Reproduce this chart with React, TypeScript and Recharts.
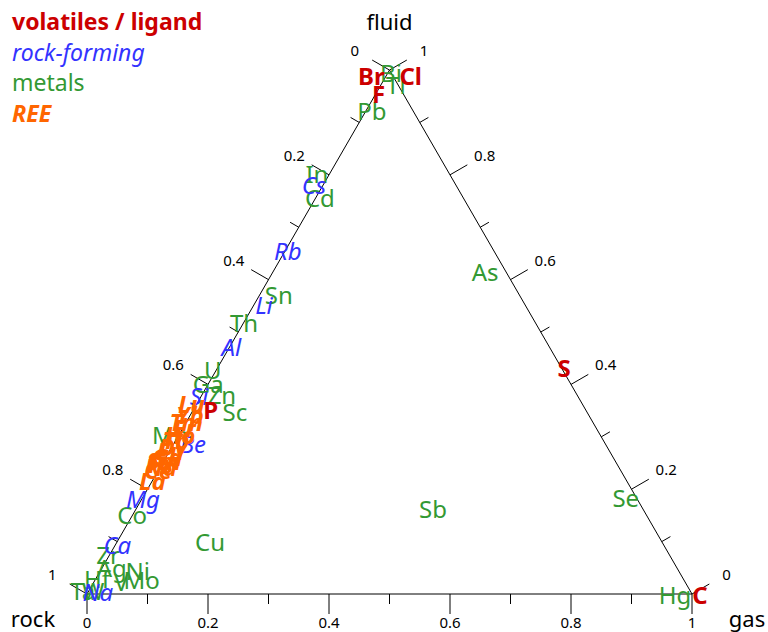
import React from 'react';
import { ScatterChart, Scatter, XAxis, YAxis, ReferenceLine } from 'recharts';

type El = { name: string; rock: number; fluid: number; gas: number };

// ---- data (ternary fractions: rock, fluid, gas) ----
const volatiles: El[] = [
  { name: 'Br', rock: 0.035, fluid: 0.99, gas: -0.025 },
  { name: 'Cl', rock: -0.03, fluid: 0.99, gas: 0.04 },
  { name: 'F', rock: 0.04, fluid: 0.956, gas: 0.004 },
  { name: 'P', rock: 0.619, fluid: 0.353, gas: 0.028 },
  { name: 'S', rock: -0.005, fluid: 0.433, gas: 0.572 },
  { name: 'C', rock: -0.013, fluid: 0.0, gas: 1.013 },
];

const rockForming: El[] = [
  { name: 'Cs', rock: 0.234, fluid: 0.782, gas: -0.016 },
  { name: 'Rb', rock: 0.34, fluid: 0.656, gas: 0.004 },
  { name: 'Li', rock: 0.431, fluid: 0.553, gas: 0.016 },
  { name: 'Al', rock: 0.525, fluid: 0.473, gas: 0.002 },
  { name: 'Si', rock: 0.626, fluid: 0.378, gas: -0.004 },
  { name: 'Be', rock: 0.681, fluid: 0.288, gas: 0.031 },
  { name: 'Mg', rock: 0.816, fluid: 0.183, gas: 0.001 },
  { name: 'Ca', rock: 0.903, fluid: 0.094, gas: 0.003 },
  { name: 'Na', rock: 0.98, fluid: 0.004, gas: 0.016 },
];

const metals: El[] = [
  { name: 'Bi', rock: 0.0, fluid: 0.995, gas: 0.005 },
  { name: 'Tl', rock: 0.003, fluid: 0.973, gas: 0.024 },
  { name: 'Pb', rock: 0.068, fluid: 0.922, gas: 0.01 },
  { name: 'In', rock: 0.219, fluid: 0.802, gas: -0.021 },
  { name: 'Cd', rock: 0.237, fluid: 0.756, gas: 0.007 },
  { name: 'Sn', rock: 0.397, fluid: 0.572, gas: 0.031 },
  { name: 'Th', rock: 0.481, fluid: 0.519, gas: 0.0 },
  { name: 'U', rock: 0.578, fluid: 0.428, gas: -0.006 },
  { name: 'Ga', rock: 0.599, fluid: 0.401, gas: 0.0 },
  { name: 'Zn', rock: 0.587, fluid: 0.38, gas: 0.033 },
  { name: 'Sc', rock: 0.581, fluid: 0.349, gas: 0.07 },
  { name: 'Mn', rock: 0.71, fluid: 0.305, gas: -0.015 },
  { name: 'Co', rock: 0.85, fluid: 0.151, gas: -0.001 },
  { name: 'Zr', rock: 0.927, fluid: 0.076, gas: -0.003 },
  { name: 'Ag', rock: 0.934, fluid: 0.05, gas: 0.016 },
  { name: 'Ni', rock: 0.894, fluid: 0.044, gas: 0.062 },
  { name: 'Hf', rock: 0.969, fluid: 0.029, gas: 0.002 },
  { name: 'V', rock: 0.932, fluid: 0.023, gas: 0.045 },
  { name: 'Mo', rock: 0.896, fluid: 0.027, gas: 0.077 },
  { name: 'Ta', rock: 1.004, fluid: 0.006, gas: -0.01 },
  { name: 'W', rock: 0.987, fluid: 0.006, gas: 0.007 },
  { name: 'Cu', rock: 0.746, fluid: 0.101, gas: 0.153 },
  { name: 'Sb', rock: 0.346, fluid: 0.164, gas: 0.49 },
  { name: 'As', rock: 0.034, fluid: 0.616, gas: 0.35 },
  { name: 'Se', rock: 0.017, fluid: 0.185, gas: 0.798 },
  { name: 'Hg', rock: 0.028, fluid: 0.0, gas: 0.972 },
];

const ree: El[] = [
  { name: 'Lu', rock: 0.646, fluid: 0.363, gas: -0.009 },
  { name: 'Yb', rock: 0.659, fluid: 0.342, gas: -0.001 },
  { name: 'Tm', rock: 0.671, fluid: 0.33, gas: -0.001 },
  { name: 'Er', rock: 0.681, fluid: 0.317, gas: 0.002 },
  { name: 'Ho', rock: 0.694, fluid: 0.305, gas: 0.001 },
  { name: 'Tb', rock: 0.706, fluid: 0.294, gas: 0.0 },
  { name: 'Dy', rock: 0.717, fluid: 0.282, gas: 0.001 },
  { name: 'Eu', rock: 0.726, fluid: 0.273, gas: 0.001 },
  { name: 'Gd', rock: 0.736, fluid: 0.263, gas: 0.001 },
  { name: 'Sm', rock: 0.746, fluid: 0.254, gas: 0.0 },
  { name: 'Pr', rock: 0.754, fluid: 0.25, gas: -0.004 },
  { name: 'Nd', rock: 0.756, fluid: 0.244, gas: 0.0 },
  { name: 'Ce', rock: 0.764, fluid: 0.237, gas: -0.001 },
  { name: 'La', rock: 0.784, fluid: 0.216, gas: 0.0 },
];

const tickSteps = [0, 0.1, 0.2, 0.3, 0.4, 0.5, 0.6, 0.7, 0.8, 0.9, 1];
const tickLabels = ['0', '0.2', '0.4', '0.6', '0.8', '1'];
const axisTitles = ['rock', 'fluid', 'gas'];
const legendItems = ['volatiles / ligand', 'rock-forming', 'metals', 'REE'];

// ---- geometry / styles ----
const W = 768;
const H = 632;
const UNIT = 605; // px per side length
const OX = 87;
const OY = 594;
const S3 = Math.sqrt(3) / 2;
const xDomain = [-OX / UNIT, (W - OX) / UNIT];
const yDomain = [-(H - OY) / UNIT, OY / UNIT];
const FONT = '"Noto Sans", "DejaVu Sans", sans-serif';

const RED = '#CC0000';
const BLUE = '#3333FF';
const GREEN = '#339933';
const ORANGE = '#FF6600';

const toXY = (e: El) => {
  const s = e.rock + e.fluid + e.gas;
  const f = e.fluid / s;
  const g = e.gas / s;
  return { x: g + f / 2, y: f * S3, name: e.name };
};

type Pt = { x: number; y: number };
const edges = [
  // left edge: rock axis (t = rock fraction)
  { pt: (t: number): Pt => ({ x: (1 - t) / 2, y: (1 - t) * S3 }), n: { x: -S3, y: 0.5 }, lab: 40 },
  // right edge: fluid axis (t = fluid fraction)
  { pt: (t: number): Pt => ({ x: 1 - t / 2, y: t * S3 }), n: { x: S3, y: 0.5 }, lab: 40 },
  // bottom edge: gas axis (t = gas fraction)
  { pt: (t: number): Pt => ({ x: t, y: 0 }), n: { x: 0, y: -1 }, lab: 28 },
];

const tickSegs: { a: Pt; b: Pt }[] = [];
const tickLabelPts: { x: number; y: number; name: string }[] = [];
edges.forEach((ed) => {
  tickSteps.forEach((t, i) => {
    const major = i % 2 === 0;
    const len = (major ? 20 : 10) / UNIT;
    const a = ed.pt(t);
    tickSegs.push({ a, b: { x: a.x + ed.n.x * len, y: a.y + ed.n.y * len } });
    if (major) {
      const d = ed.lab / UNIT;
      tickLabelPts.push({ x: a.x + ed.n.x * d, y: a.y + ed.n.y * d, name: tickLabels[i / 2] });
    }
  });
});

const vertices: Pt[] = [
  { x: 0, y: 0 },
  { x: 0.5, y: S3 },
  { x: 1, y: 0 },
];
const titleOffsets = [
  { dx: -54, dy: 33 },
  { dx: 0, dy: -40 },
  { dx: 55, dy: 33 },
];
const titlePts = axisTitles.map((name, i) => ({ ...vertices[i], name, i }));

const textShape =
  (fill: string, weight: string, style: string, size: number) =>
  (props: any) => {
    const { cx, cy, payload } = props;
    return (
      <text
        x={cx}
        y={cy}
        textAnchor="middle"
        dominantBaseline="central"
        fill={fill}
        fontWeight={weight}
        fontStyle={style}
        fontSize={size}
        fontFamily={FONT}
      >
        {payload.name}
      </text>
    );
  };

const titleShape = (props: any) => {
  const { cx, cy, payload } = props;
  const o = titleOffsets[payload.i];
  return (
    <text x={cx + o.dx} y={cy + o.dy} textAnchor="middle" fill="#000" fontSize={22} fontFamily={FONT}>
      {payload.name}
    </text>
  );
};

const legendStyles = [
  { fill: RED, fontWeight: 'bold', fontStyle: 'normal' },
  { fill: BLUE, fontWeight: 'normal', fontStyle: 'italic' },
  { fill: GREEN, fontWeight: 'normal', fontStyle: 'normal' },
  { fill: ORANGE, fontWeight: 'bold', fontStyle: 'italic' },
];

export default function App() {
  return (
    <div style={{ position: 'absolute', left: 0, top: 0, width: W, height: H, background: '#fff' }}>
      <ScatterChart width={W} height={H} margin={{ top: 0, right: 0, bottom: 0, left: 0 }}>
        <XAxis type="number" dataKey="x" domain={xDomain} allowDataOverflow hide />
        <YAxis type="number" dataKey="y" domain={yDomain} allowDataOverflow hide />
        <ReferenceLine segment={[vertices[0], vertices[1]]} stroke="#000" strokeWidth={1} ifOverflow="visible" />
        <ReferenceLine segment={[vertices[1], vertices[2]]} stroke="#000" strokeWidth={1} ifOverflow="visible" />
        <ReferenceLine segment={[vertices[2], vertices[0]]} stroke="#000" strokeWidth={1} ifOverflow="visible" />
        {tickSegs.map((s, i) => (
          <ReferenceLine key={'t' + i} segment={[s.a, s.b]} stroke="#000" strokeWidth={1} ifOverflow="visible" />
        ))}
        <Scatter data={tickLabelPts} shape={textShape('#000', 'normal', 'normal', 15)} isAnimationActive={false} />
        <Scatter data={titlePts} shape={titleShape} isAnimationActive={false} />
        <Scatter data={metals.map(toXY)} shape={textShape(GREEN, 'normal', 'normal', 24)} isAnimationActive={false} />
        <Scatter data={rockForming.map(toXY)} shape={textShape(BLUE, 'normal', 'italic', 24)} isAnimationActive={false} />
        <Scatter data={ree.map(toXY)} shape={textShape(ORANGE, 'bold', 'italic', 24)} isAnimationActive={false} />
        <Scatter data={volatiles.map(toXY)} shape={textShape(RED, 'bold', 'normal', 24)} isAnimationActive={false} />
      </ScatterChart>
      <svg width={260} height={135} style={{ position: 'absolute', left: 0, top: 0 }}>
        {legendItems.map((t, i) => (
          <text key={t} x={12} y={30 + i * 30.5} fontSize={23} fontFamily={FONT} {...legendStyles[i]}>
            {t}
          </text>
        ))}
      </svg>
    </div>
  );
}
